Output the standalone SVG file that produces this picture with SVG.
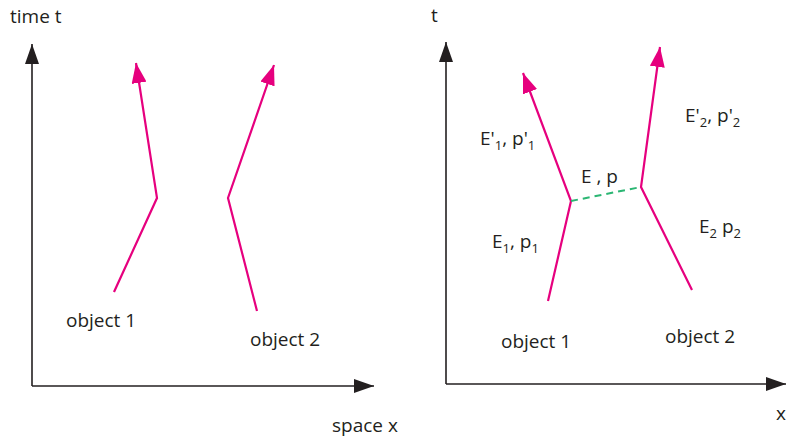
<svg xmlns="http://www.w3.org/2000/svg" width="789" height="438" viewBox="0 0 789 438">
<defs>
<style>
text{font-family:"Open Sans","Noto Sans",sans-serif;font-size:19px;fill:#231f20}
.sub{font-size:13px}
.axis{stroke:#231f20;stroke-width:1.6;fill:none}
.wl{stroke:#e6007e;stroke-width:2.2;fill:none;stroke-linejoin:miter}
.ex{stroke:#2bb673;stroke-width:2;stroke-dasharray:7,5;fill:none}
</style>
<marker id="ah" markerUnits="userSpaceOnUse" markerWidth="22" markerHeight="14" refX="20" refY="7" orient="auto"><path d="M0,0 L20,7 L0,14 z" fill="#231f20"/></marker>
<marker id="ph" markerUnits="userSpaceOnUse" markerWidth="22" markerHeight="15" refX="20" refY="7.5" orient="auto"><path d="M0,0 L20,7.5 L0,15 z" fill="#e6007e"/></marker>
</defs>
<g id="left-axes">
<path class="axis" d="M32,386 L32,44" marker-end="url(#ah)"/>
<path class="axis" d="M32,386 L374,386" marker-end="url(#ah)"/>
<text x="10" y="23">time t</text>
<text x="332" y="432">space x</text>
</g>
<g id="connectors">
<path class="wl" d="M114,292 L157,198 L136,63" marker-end="url(#ph)"/>
<path class="wl" d="M257,311 L228,198 L274,65" marker-end="url(#ph)"/>
<path class="wl" d="M548,301 L571,201 L523,73" marker-end="url(#ph)"/>
<path class="wl" d="M692,290 L641,187 L660,47" marker-end="url(#ph)"/>
<path class="ex" d="M571,201 L641,187"/>
</g>
<g id="left-object1"><text x="66" y="327">object 1</text></g>
<g id="left-object2"><text x="250" y="346">object 2</text></g>
<g id="right-axes">
<path class="axis" d="M446,384 L446,42" marker-end="url(#ah)"/>
<path class="axis" d="M446,384 L786,384" marker-end="url(#ah)"/>
<text x="431" y="22">t</text>
<text x="776" y="420">x</text>
</g>
<g id="right-object1"><text x="501" y="348">object 1</text></g>
<g id="right-object2"><text x="665" y="343">object 2</text></g>
<g id="labels">
<text x="480" y="145">E'<tspan class="sub" dy="5">1</tspan><tspan dy="-5">, p'</tspan><tspan class="sub" dy="5">1</tspan></text>
<text x="581" y="183">E , p</text>
<text x="685" y="122">E'<tspan class="sub" dy="5">2</tspan><tspan dy="-5">, p'</tspan><tspan class="sub" dy="5">2</tspan></text>
<text x="492" y="248">E<tspan class="sub" dy="5">1</tspan><tspan dy="-5">, p</tspan><tspan class="sub" dy="5">1</tspan></text>
<text x="699" y="233">E<tspan class="sub" dy="5">2</tspan><tspan dy="-5"> p</tspan><tspan class="sub" dy="5">2</tspan></text>
</g>
</svg>
